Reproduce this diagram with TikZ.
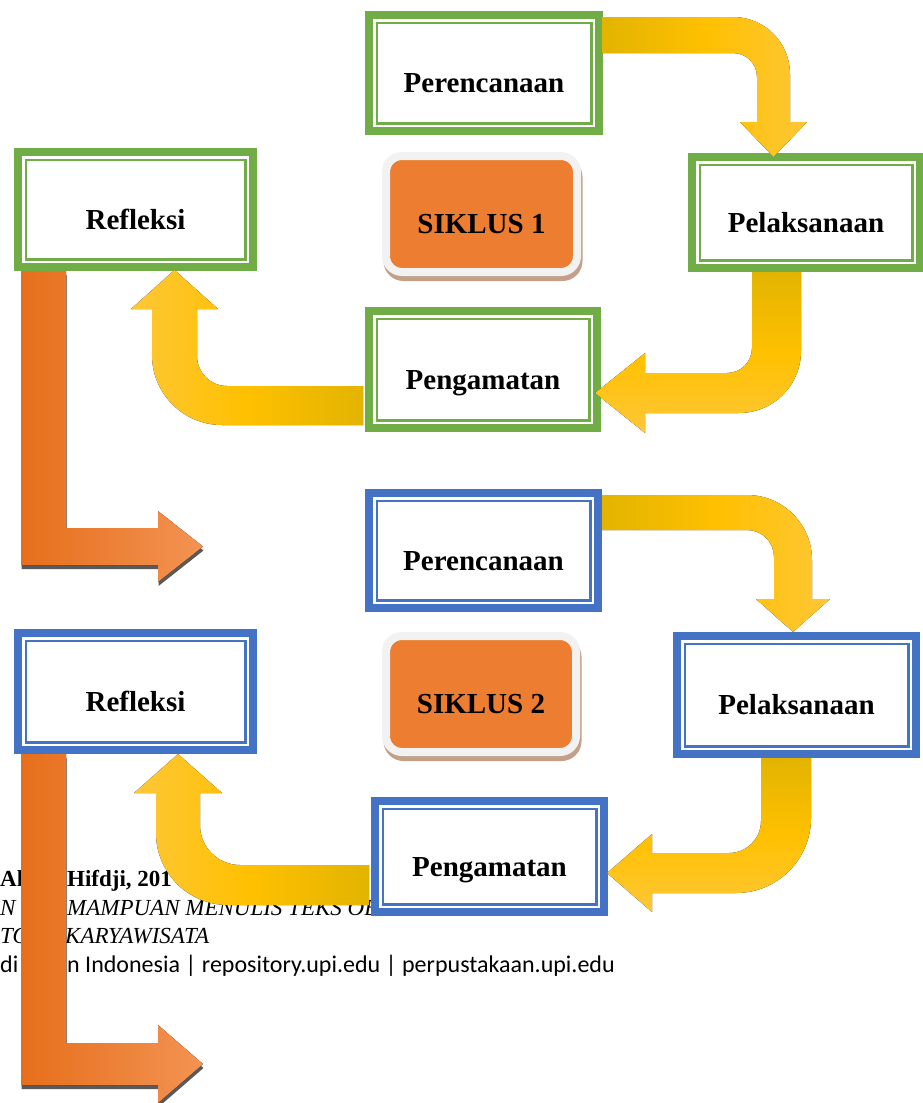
\documentclass[tikz,border=0pt]{standalone}
\usepackage{fontspec}
\setmainfont{Liberation Serif}
\newfontfamily\footsans{Carlito}
\usepackage{xcolor}
\usepackage{tikz}
\usetikzlibrary{calc}
\definecolor{leaf}{HTML}{70AD47}
\definecolor{sea}{HTML}{4472C4}
\definecolor{golddark}{HTML}{E2B400}
\definecolor{goldmid}{HTML}{FFC000}
\definecolor{goldlight}{HTML}{FEC737}
\definecolor{rustleft}{HTML}{E66F1B}
\definecolor{rustright}{HTML}{F39353}
\definecolor{rustshadow}{HTML}{595959}
\definecolor{siklus}{HTML}{ED7D31}
\definecolor{sikframe}{HTML}{F2F2F2}
\definecolor{sikshadow}{HTML}{C4A088}

\tikzset{
  stage/.style={rectangle, draw=#1, line width=8pt, fill=white, inner sep=0pt, outer sep=0pt,
    font=\fontsize{29}{34}\selectfont\bfseries, text height=39pt, text depth=0pt,
    path picture={\draw[#1, line width=2.5pt]
      ([shift={(7.75pt,-7.75pt)}]path picture bounding box.north west) rectangle
      ([shift={(-7.75pt,7.75pt)}]path picture bounding box.south east);}},
  cyclebox/.style={rectangle, rounded corners=16pt, fill=siklus, draw=sikframe,
    line width=8pt, inner sep=0pt, outer sep=0pt, minimum width=191pt, minimum height=116pt,
    font=\fontsize{29}{34}\selectfont\bfseries, text height=38pt, text depth=0pt,
    preaction={draw=sikshadow, fill=sikshadow, transform canvas={shift={(1.5pt,-5pt)}}}},
  foot/.style={anchor=base west, inner sep=0pt, font=\fontsize{23}{27}\selectfont},
  goldright/.style={left color=golddark, right color=goldlight, middle color=goldmid},
  goldleft/.style={left color=goldlight, right color=golddark, middle color=goldmid},
  golddown/.style={top color=golddark, bottom color=goldlight, middle color=goldmid},
  rust/.style={left color=rustleft, right color=rustright},
}

\begin{document}
\begin{tikzpicture}[x=1pt, y=-1pt]
    \useasboundingbox (0,0) rectangle (923,1103);
    \fill[white] (0,0) rectangle (923,1103);

    \node[foot] (ftA) at (0,886) {\bfseries Ah};
    \node[foot] (ftB) at (67,886) {\bfseries Hifdji, 201};
    \node[foot] (ftC) at (0,915) {\itshape N};
    \node[foot] (ftD) at (67,915) {\itshape MAMPUAN MENULIS TEKS OB};
    \node[foot] (ftE) at (0,943) {\itshape TO};
    \node[foot] (ftF) at (65,943) {\itshape KARYAWISATA};
    \node[foot, font=\fontsize{24}{28}\selectfont] (ftG) at (0,972) {\footsans di};
    \node[foot, font=\fontsize{24}{28}\selectfont] (ftH) at (67,972) {\footsans n Indonesia | repository.upi.edu | perpustakaan.upi.edu};

    \node[stage=leaf, minimum width=230pt, minimum height=116pt] (per1) at (484,73) {Perencanaan};
    \node[stage=leaf, minimum width=228pt, minimum height=111pt] (pel1) at (806,212.5) {Pelaksanaan};
    \node[stage=leaf, minimum width=235pt, minimum height=115pt] (ref1) at (135.5,209.5) {Refleksi};
    \node[stage=leaf, minimum width=228pt, minimum height=117pt] (pen1) at (483,369.5) {Pengamatan};
    \node[cyclebox] (sik1) at (481.5,214) {SIKLUS 1};

    \node[stage=sea, minimum width=229pt, minimum height=115pt] (per2) at (483.5,550.5) {Perencanaan};
    \node[stage=sea, minimum width=239pt, minimum height=118pt] (pel2) at (796.5,695) {Pelaksanaan};
    \node[stage=sea, minimum width=235pt, minimum height=117pt] (ref2) at (135.5,691.5) {Refleksi};
    \node[stage=sea, minimum width=229pt, minimum height=111pt] (pen2) at (489.5,856.5) {Pengamatan};
    \node[cyclebox, minimum width=190pt] (sik2) at (481,694) {SIKLUS 2};

    \fill[goldright] ([shift={(3,-56)}]per1.east) -- ++(131,0) arc[start angle=-90, end angle=0, radius=57]
        -- ++(0,48) -- ++(17,0) -- ++(-33.5,35) -- ++(-33.5,-35) -- ++(17,0) -- ++(0,-45)
        arc[start angle=0, end angle=-90, radius=24] -- ++(-131,0) -- cycle;
    \fill[golddown] ([shift={(-54,4)}]pel1.south) -- ++(49,0) -- ++(0,79) arc[start angle=0, end angle=90, radius=62]
        -- ++(-94,0) -- ++(0,20) -- ++(-50,-40) -- ++(50,-40) -- ++(0,20) -- ++(82,0)
        arc[start angle=90, end angle=0, radius=25] -- cycle;
    \fill[goldleft] ([shift={(-6,16.5)}]pen1.west) -- ++(-136,0) arc[start angle=90, end angle=180, radius=30]
        -- ++(0,-47) -- ++(21,0) -- ++(-43.5,-39) -- ++(-43.5,39) -- ++(21,0) -- ++(0,46)
        arc[start angle=180, end angle=90, radius=70] -- ++(141,0) -- cycle;

    \fill[goldright] ([shift={(4,-55.5)}]per2.east) -- ++(145,0) arc[start angle=-90, end angle=0, radius=65]
        -- ++(0,39) -- ++(18,0) -- ++(-37,33) -- ++(-37,-33) -- ++(18,0) -- ++(0,-42)
        arc[start angle=0, end angle=-90, radius=27] -- ++(-145,0) -- cycle;
    \fill[golddown] ([shift={(-35.5,4)}]pel2.south) -- ++(50,0) -- ++(0,60) arc[start angle=0, end angle=90, radius=75]
        -- ++(-84,0) -- ++(0,19) -- ++(-45,-39) -- ++(45,-39) -- ++(0,19) -- ++(77,0)
        arc[start angle=90, end angle=0, radius=32] -- cycle;
    \fill[goldleft] ([shift={(-6,8.5)}]pen2.west) -- ++(-129,0) arc[start angle=90, end angle=180, radius=40]
        -- ++(0,-32) -- ++(22,0) -- ++(-44,-39) -- ++(-44,39) -- ++(22,0) -- ++(0,40)
        arc[start angle=180, end angle=90, radius=72] -- ++(141,0) -- cycle;

    \fill[rustshadow] ([shift={(3.5,8)}]ref1.south west) -- ++(45,0) -- ++(0,257) -- ++(92,0) -- ++(0,-17)
        -- ++(45,35.5) -- ++(-45,35.5) -- ++(0,-17) -- ++(-137,0) -- cycle;
    \fill[rust] ([shift={(3,4)}]ref1.south west) -- ++(45,0) -- ++(0,257) -- ++(92,0) -- ++(0,-17)
        -- ++(45,35.5) -- ++(-45,35.5) -- ++(0,-17) -- ++(-137,0) -- cycle;
    \fill[rustshadow] ([shift={(3.5,8)}]ref2.south west) -- ++(45,0) -- ++(0,289) -- ++(92,0) -- ++(0,-18)
        -- ++(45,39) -- ++(-45,39) -- ++(0,-18) -- ++(-137,0) -- cycle;
    \fill[rust] ([shift={(3,4)}]ref2.south west) -- ++(45,0) -- ++(0,289) -- ++(92,0) -- ++(0,-18)
        -- ++(45,39) -- ++(-45,39) -- ++(0,-18) -- ++(-137,0) -- cycle;
\end{tikzpicture}
\end{document}
